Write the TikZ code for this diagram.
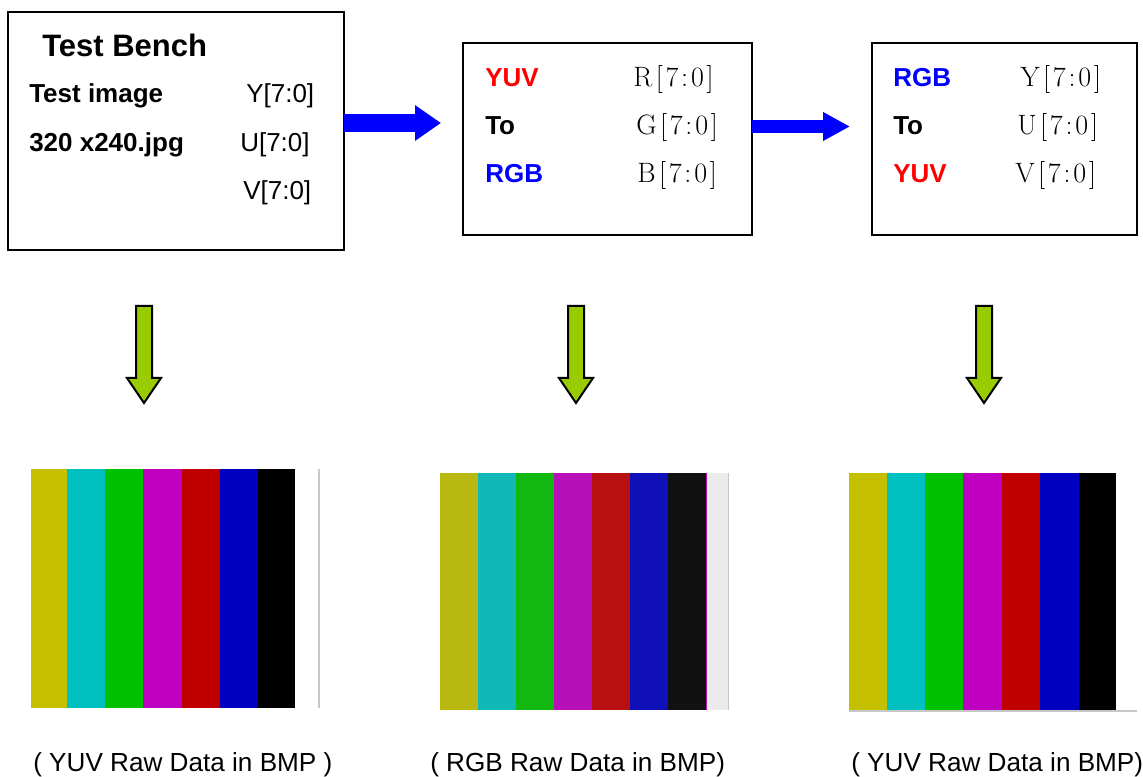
\documentclass[tikz,border=0pt]{standalone}
\usepackage{fontspec}
\setsansfont{Liberation Sans}
\usetikzlibrary{arrows.meta}
\definecolor{arrowblue}{HTML}{0000FF}
\definecolor{agreen}{HTML}{99CC00}
\definecolor{tred}{HTML}{FF0000}
\definecolor{tblue}{HTML}{0000FF}
% bars, set 1 (YUV)
\definecolor{ya}{HTML}{C4C000}
\definecolor{yb}{HTML}{00C0C0}
\definecolor{yc}{HTML}{00C000}
\definecolor{yd}{HTML}{C000C0}
\definecolor{ye}{HTML}{C00000}
\definecolor{yf}{HTML}{0000C0}
\definecolor{yg}{HTML}{000000}
% bars, set 2 (RGB)
\definecolor{ra}{HTML}{B8B810}
\definecolor{rb}{HTML}{10B8B8}
\definecolor{rc}{HTML}{10B810}
\definecolor{rd}{HTML}{B810B8}
\definecolor{re}{HTML}{B81010}
\definecolor{rf}{HTML}{1010B8}
\definecolor{rg}{HTML}{111111}
\newcommand\bitlbl[1]{#1\kern2.6pt[\kern2.1pt7\kern2.1pt:\kern2.1pt0\kern2.1pt]}
\begin{document}
\begin{tikzpicture}[x=0.75pt,y=-0.75pt,
  box/.style={draw=black,line width=1.5pt,fill=white,inner sep=0pt,outer sep=0pt,anchor=north west},
  lbl/.style={anchor=base west,inner sep=0pt,font=\sffamily\fontsize{19.5}{20}\selectfont},
  blbl/.style={lbl,font=\sffamily\bfseries\fontsize{19.5}{20}\selectfont},
  slbl/.style={anchor=base west,inner sep=0pt,font=\rmfamily\fontsize{21}{22}\selectfont},
  captext/.style={anchor=base west,inner sep=0pt,font=\sffamily\fontsize{19.6}{21}\selectfont},
  bluearrowA/.style={draw=arrowblue,line width=13.5pt,-{Triangle[length=19.5pt,width=25.5pt,fill=arrowblue]}},
  bluearrowB/.style={draw=arrowblue,line width=9.75pt,-{Triangle[length=20.25pt,width=20.25pt,fill=arrowblue]}},
  downarrow/.pic={\draw[line width=1.5pt,fill=agreen,line join=miter]
     (-8,0) -- (8,0) -- (8,72) -- (17,72) -- (0,97) -- (-17,72) -- (-8,72) -- cycle;}
]
\useasboundingbox (0,0) rectangle (1143,777);
\fill[white] (0,0) rectangle (1143,777);

% ---------- boxes ----------
\node[box,minimum width=252pt,minimum height=178.5pt] (b1) at (8,12) {};
\node[box,minimum width=216.75pt,minimum height=144pt] (b2) at (463,43) {};
\node[box,minimum width=198.75pt,minimum height=144pt] (b3) at (872,43) {};

% box 1 texts
\node[anchor=base west,inner sep=0pt,font=\sffamily\bfseries\fontsize{23.25}{24}\selectfont] (tb) at (42,57) {Test Bench};
\node[blbl] (ti) at (29,103) {Test image};
\node[blbl] (tj) at (29,152) {320 x240.jpg};
\node[lbl] (y1) at (246,103) {Y[7:0]};
\node[lbl] (u1) at (240,152) {U[7:0]};
\node[lbl] (v1) at (243,200) {V[7:0]};

% box 2 texts
\node[blbl,text=tred] (c2a) at (485,87) {YUV};
\node[blbl] (c2b) at (485,135) {To};
\node[blbl,text=tblue] (c2c) at (485,183) {RGB};
\node[slbl] (r2) at (633,87) {\bitlbl{R}};
\node[slbl] (g2) at (636,135) {\bitlbl{G}};
\node[slbl] (bb2) at (637,183) {\bitlbl{B}};

% box 3 texts
\node[blbl,text=tblue] (c3a) at (893,87) {RGB};
\node[blbl] (c3b) at (893,135) {To};
\node[blbl,text=tred] (c3c) at (893,183) {YUV};
\node[slbl] (y3) at (1020,87) {\bitlbl{Y}};
\node[slbl] (u3) at (1017,135) {\bitlbl{U}};
\node[slbl] (v3) at (1015,183) {\bitlbl{V}};

% ---------- blue arrows ----------
\coordinate (t1) at (441,123);
\draw[bluearrowA] (b1.east |- t1) -- (t1);
\coordinate (t2) at (850,126.5);
\draw[bluearrowB] (b2.east |- t2) -- (t2);

% ---------- green arrows ----------
\pic at (144,306) {downarrow};
\pic at (576,306) {downarrow};
\pic at (984,306) {downarrow};

% ---------- colour bars ----------
% image 1
\foreach \xa/\xb/\c in {31/67/ya,67/105/yb,105/143/yc,143/182/yd,182/220/ye,220/258/yf,258/295/yg}
  \fill[\c] (\xa,469) rectangle (\xb,708);
\fill[black!22] (317.5,469) rectangle (319.5,708);
% image 2
\foreach \xa/\xb/\c in {440/478/ra,478/516/rb,516/554/rc,554/592/rd,592/630/re,630/668/rf,668/706/rg}
  \fill[\c] (\xa,473) rectangle (\xb,710);
\fill[black!8] (706,473) rectangle (729,710);
\fill[black!22] (728,473) rectangle (729,710);
\fill[rd] (705.5,473) rectangle (706.8,710);
% image 3
\foreach \xa/\xb/\c in {849/887/ya,887/925/yb,925/963/yc,963/1002/yd,1002/1040/ye,1040/1079/yf,1079/1116/yg}
  \fill[\c] (\xa,473) rectangle (\xb,710);
\fill[black!22] (849,710) rectangle (1137,711.5);

% ---------- captions ----------
\node[captext] (k1) at (33,771) {( YUV Raw Data in BMP )};
\node[captext] (k2) at (430,771) {( RGB Raw Data in BMP)};
\node[captext] (k3) at (851,771) {( YUV Raw Data in BMP)};
\end{tikzpicture}
\end{document}
